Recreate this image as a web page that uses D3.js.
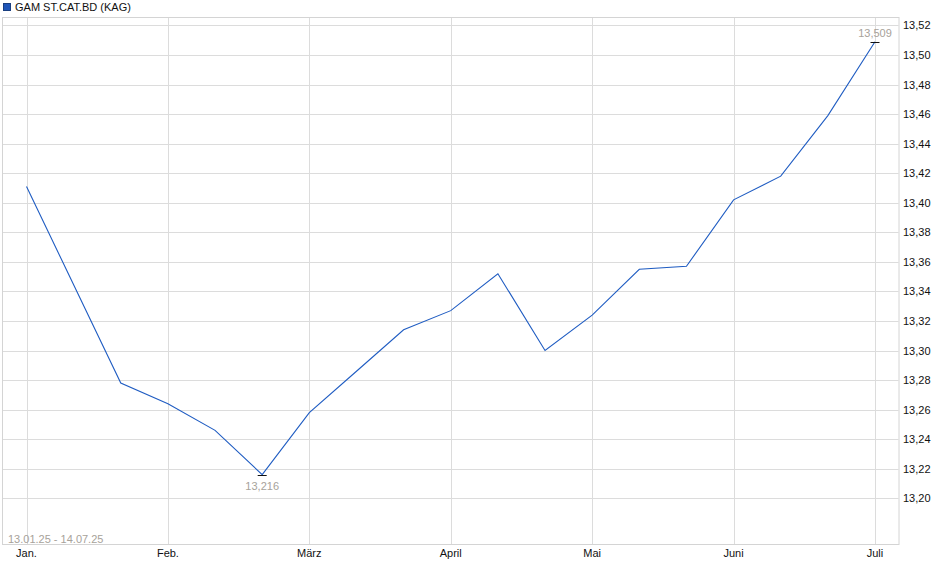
<!DOCTYPE html>
<html>
<head>
<meta charset="utf-8">
<script src="https://cdn.jsdelivr.net/npm/d3@7"></script>
<style>
  body { margin: 0; background: #fff; }
  text { font-family: "Liberation Sans", Arial, sans-serif; }
</style>
</head>
<body>
<div id="chart"></div>
<script>
// series: one point every ~10 days, slot = position on the x axis
const slots = [0, 2, 3, 4, 5, 6, 7, 8, 9, 10, 11, 12, 13, 14, 15, 16, 17, 18];
const values = [13.411, 13.278, 13.264, 13.246, 13.216, 13.258, 13.286, 13.314, 13.327,
                13.352, 13.300, 13.324, 13.355, 13.357, 13.402, 13.418, 13.459, 13.509];
const monthLabels = ["Jan.", "Feb.", "März", "April", "Mai", "Juni", "Juli"];
const monthSlots = [0, 3, 6, 9, 12, 15, 18];
const yTicks = [13.20, 13.22, 13.24, 13.26, 13.28, 13.30, 13.32, 13.34, 13.36, 13.38,
                13.40, 13.42, 13.44, 13.46, 13.48, 13.50, 13.52];
const seriesName = "GAM ST.CAT.BD (KAG)";
const rangeLabel = "13.01.25 - 14.07.25";

const width = 940, height = 579;
const frame = { left: 3, top: 18, right: 898.5, bottom: 545 };

const de = d3.formatLocale({ decimal: ",", thousands: ".", grouping: [3], currency: ["", "€"] });
const fmt2 = de.format(".2f");
const fmt3 = de.format(".3f");

const svg = d3.select("#chart").append("svg")
  .attr("width", width)
  .attr("height", height);

const x = d3.scaleLinear().domain([0, 18]).range([26.5, 875]);
const y = d3.scaleLinear().domain([13.20, 13.50]).range([498.3, 55]);

// horizontal grid
svg.append("g").selectAll("line")
  .data(yTicks).join("line")
  .attr("x1", frame.left).attr("x2", frame.right)
  .attr("y1", d => Math.round(y(d)) + 0.5).attr("y2", d => Math.round(y(d)) + 0.5)
  .attr("stroke", "#dcdcdc");

// vertical grid
svg.append("g").selectAll("line")
  .data(monthSlots).join("line")
  .attr("x1", d => Math.round(x(d)) + 0.5).attr("x2", d => Math.round(x(d)) + 0.5)
  .attr("y1", frame.top).attr("y2", frame.bottom)
  .attr("stroke", "#dcdcdc");

// frame
svg.append("rect")
  .attr("x", frame.left - 0.5).attr("y", frame.top - 0.5)
  .attr("width", frame.right - frame.left + 1).attr("height", frame.bottom - frame.top)
  .attr("fill", "none")
  .attr("stroke", "#d4d4d4");

// y labels (right)
svg.append("g").selectAll("text")
  .data(yTicks).join("text")
  .attr("x", 903)
  .attr("y", d => y(d) + 4)
  .attr("font-size", 11)
  .attr("fill", "#111")
  .text(d => fmt2(d));

// month labels
svg.append("g").selectAll("text")
  .data(monthSlots).join("text")
  .attr("x", d => x(d))
  .attr("y", 557)
  .attr("text-anchor", "middle")
  .attr("font-size", 11)
  .attr("fill", "#111")
  .text((d, i) => monthLabels[i]);

// date range
svg.append("text")
  .attr("x", 8).attr("y", 543)
  .attr("font-size", 11)
  .attr("fill", "#a7a29a")
  .text(rangeLabel);

// line
const line = d3.line()
  .x((d, i) => x(slots[i]))
  .y(d => y(d));

svg.append("path")
  .datum(values)
  .attr("d", line)
  .attr("fill", "none")
  .attr("stroke", "#1f5cc2")
  .attr("stroke-width", 1.1);

// min / max markers
const iMin = d3.minIndex(values), iMax = d3.maxIndex(values);
[[iMin, 15], [iMax, -5]].forEach(([i, dy]) => {
  const px = x(slots[i]), py = y(values[i]);
  svg.append("line")
    .attr("x1", px - 4.5).attr("x2", px + 4.5)
    .attr("y1", Math.round(py) + 0.5).attr("y2", Math.round(py) + 0.5)
    .attr("stroke", "#111");
  svg.append("text")
    .attr("x", px).attr("y", py + dy)
    .attr("text-anchor", "middle")
    .attr("font-size", 11)
    .attr("fill", "#a7a29a")
    .text(fmt3(values[i]));
});

// legend
svg.append("rect")
  .attr("x", 3.5).attr("y", 3.5).attr("width", 7).attr("height", 7)
  .attr("fill", "#1f55b8")
  .attr("stroke", "#1a3f80");
svg.append("text")
  .attr("x", 15).attr("y", 11)
  .attr("font-size", 11)
  .attr("fill", "#111")
  .text(seriesName);
</script>
</body>
</html>
